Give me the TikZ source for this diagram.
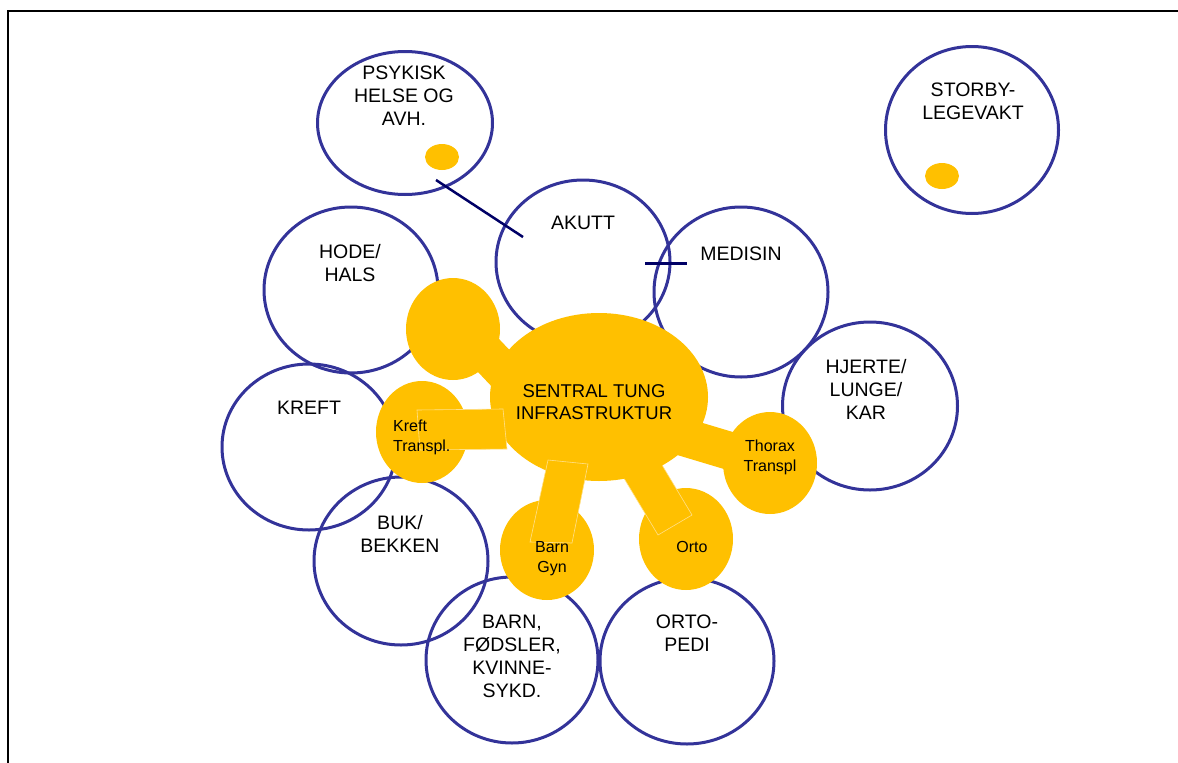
\documentclass[tikz,border=0pt]{standalone}
\usepackage{fontspec}
\setmainfont{Liberation Sans}
\usetikzlibrary{shapes.geometric}
\definecolor{cblue}{HTML}{333399}
\definecolor{cyel}{HTML}{FFC000}
\definecolor{cnavy}{HTML}{000066}
\definecolor{cedge}{HTML}{FFE08A}
\begin{document}
\begin{tikzpicture}[x=1pt,y=-1pt,
  dept/.style={ellipse, draw=cblue, line width=3pt, inner sep=0pt},
  blob/.style={ellipse, fill=cyel, inner sep=0pt},
  dot/.style={ellipse, fill=cyel, inner sep=0pt, minimum width=34pt, minimum height=26pt},
  lbl/.style={align=center, font=\fontsize{19.5}{23}\selectfont, inner sep=0pt},
  slbl/.style={align=center, font=\fontsize{16}{20}\selectfont, inner sep=0pt},
  band/.style={draw=cyel, line width=38pt},
  patch/.style={fill=cyel, draw=cedge, line width=0.6pt},
  navyline/.style={draw=cnavy, line width=2.5pt}]
\useasboundingbox (0,0) rectangle (1178,763);
\draw[line width=2pt] (8,763) -- (8,11) -- (1178,11);

% department circles
\node[dept, minimum width=175pt, minimum height=143pt] (psy) at (405,123) {};
\node[dept, minimum width=173pt, minimum height=167pt] (storby) at (972,130) {};
\node[dept, minimum width=174pt, minimum height=164pt] (akutt) at (583,262) {};
\node[dept, minimum width=174pt, minimum height=170pt] (medisin) at (741,292) {};
\node[dept, minimum width=174pt, minimum height=166pt] (hode) at (351,290) {};
\node[dept, minimum width=175pt, minimum height=168pt] (hjerte) at (870,406) {};
\node[dept, minimum width=174pt, minimum height=166pt] (kreft) at (309,447) {};
\node[dept, minimum width=174pt, minimum height=168pt] (buk) at (401,561) {};
\node[dept, minimum width=172pt, minimum height=166pt] (barn) at (512,660) {};
\node[dept, minimum width=174pt, minimum height=166pt] (orto) at (687,661) {};

% small dots
\node[dot] (psydot) at (442,157) {};
\node[dot] (storbydot) at (942,176) {};

% navy marks
\coordinate (psyline1) at (436,180);
\coordinate (psyline2) at (523,237);
\draw[navyline] (psyline1) -- (psyline2);
\coordinate (tick1) at (645,263);
\coordinate (tick2) at (687,263);
\draw[navyline, line width=3pt] (tick1) -- (tick2);

% yellow blobs
\node[blob, minimum width=94pt, minimum height=102pt] (tl) at (453,329) {};
\node[blob, minimum width=92pt, minimum height=102pt] (kt) at (422,432) {};
\node[blob, minimum width=94pt, minimum height=100pt] (bg) at (547,550) {};
\node[blob, minimum width=94pt, minimum height=102pt] (ob) at (686,539) {};
\node[blob, minimum width=94pt, minimum height=102pt] (tt) at (770,463) {};

% bands
\coordinate (tlb1) at (455,320);
\coordinate (tlb2) at (540,410);
\draw[band] (tlb1) -- (tlb2);
\coordinate (ttb1) at (640,424);
\draw[band] (ttb1) -- (tt.center);
\draw[patch] (613,460) -- (647,440) -- (692,515) -- (658,535) -- cycle;

% central
\node[blob, minimum width=218pt, minimum height=168pt] (central) at (599,397) {};

\draw[patch] (417,410) -- (503,409) -- (507,449) -- (420,450) -- cycle;
\draw[patch] (548,460) -- (588,464) -- (572,543) -- (530,542) -- cycle;

% labels
\node[lbl] (tpsy) at (404,96) {PSYKISK\\HELSE OG\\AVH.};
\node[lbl] (tstorby) at (973,101) {STORBY-\\LEGEVAKT};
\node[lbl] (takutt) at (583,223) {AKUTT};
\node[lbl] (tmedisin) at (741,254) {MEDISIN};
\node[lbl] (thode) at (350,263.5) {HODE/\\HALS};
\node[lbl] (tkreft) at (309,408) {KREFT};
\node[lbl] (thjerte) at (866,389) {HJERTE/\\LUNGE/\\KAR};
\node[lbl] (tbuk) at (400,534) {BUK/\\BEKKEN};
\node[lbl] (tbarn) at (512,656.5) {BARN,\\FØDSLER,\\KVINNE-\\SYKD.};
\node[lbl] (torto) at (687,633.5) {ORTO-\\PEDI};
\node[lbl, font=\fontsize{18.5}{22}\selectfont] (tcentral) at (594,402) {SENTRAL TUNG\\INFRASTRUKTUR};
\node[slbl, align=left, anchor=west] (tkt) at (393,437) {Kreft\\Transpl.};
\node[slbl] (ttt) at (770,457) {Thorax\\Transpl};
\node[slbl] (tbg) at (552,559) {Barn\\Gyn};
\node[slbl] (tob) at (692,546.5) {Orto};
\end{tikzpicture}
\end{document}
